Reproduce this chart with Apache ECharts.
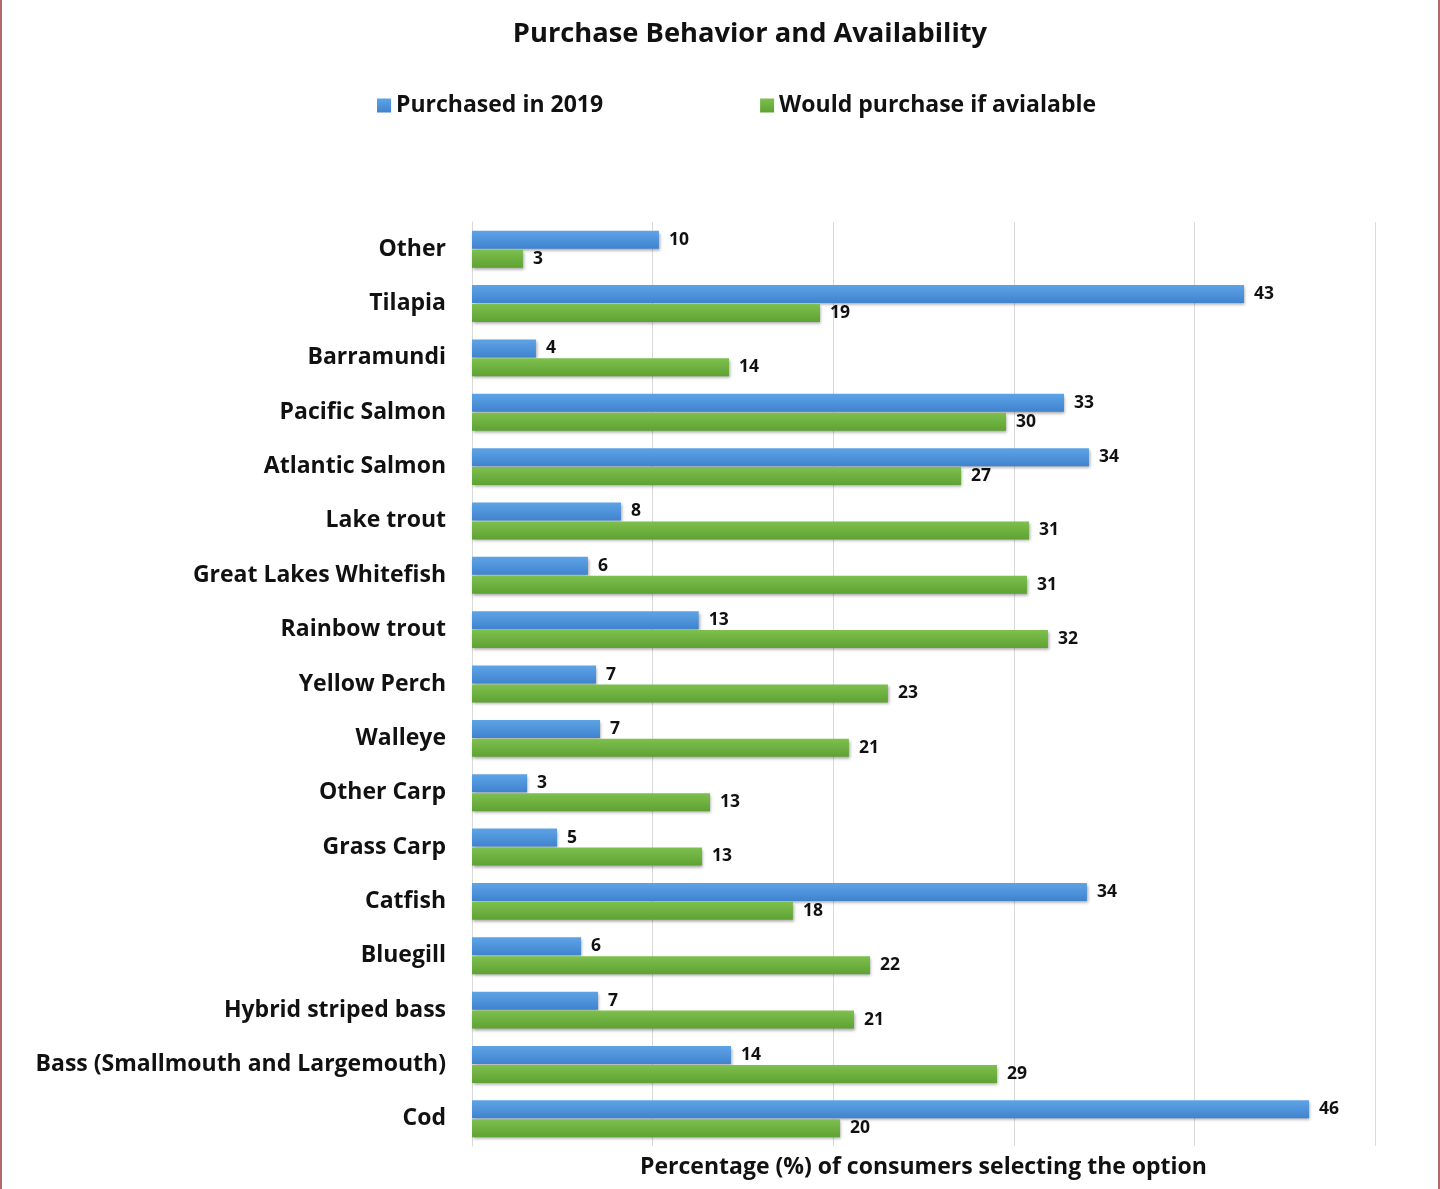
<!DOCTYPE html>
<html>
<head>
<meta charset="utf-8">
<script src="https://cdn.jsdelivr.net/npm/echarts@6/dist/echarts.min.js"></script>
<style>
html,body{margin:0;padding:0;background:#fff;}
#wrap{position:absolute;left:0;top:0;width:1440px;height:1189px;box-sizing:border-box;border-left:2px solid #b06a6a;border-right:2px solid #b06a6a;}
#chart{width:100%;height:100%;}
</style>
</head>
<body>
<div id="wrap"><div id="chart"></div></div>
<script>
const categories = ["Other","Tilapia","Barramundi","Pacific Salmon","Atlantic Salmon","Lake trout","Great Lakes Whitefish","Rainbow trout","Yellow Perch","Walleye","Other Carp","Grass Carp","Catfish","Bluegill","Hybrid striped bass","Bass (Smallmouth and Largemouth)","Cod"];
const purchased2019 = [10.35,42.75,3.54,32.78,34.16,8.25,6.42,12.55,6.87,7.09,3.05,4.71,34.05,6.04,6.98,14.34,46.35];
const wouldPurchase = [2.82,19.27,14.23,29.57,27.08,30.84,30.73,31.89,23.03,20.87,13.18,12.74,17.77,22.04,21.15,29.07,20.38];
const seriesNames = ["Purchased in 2019","Would purchase if avialable"];
const titleText = "Purchase Behavior and Availability";
const axisTitle = "Percentage (%) of consumers selecting the option";

const FONT = "Open Sans";
const chart = echarts.init(document.getElementById('chart'));
const lbl = {show:true, position:'right', distance:10, color:'#111', fontFamily:FONT, fontWeight:'bold', fontSize:17.5, formatter:p=>Math.round(p.value)};
chart.setOption({
  animation:false,
  title:{text:titleText, left:743, top:16, textAlign:'center', textStyle:{fontFamily:FONT, fontWeight:'bold', fontSize:27.3, color:'#111'}},
  legend:{data:seriesNames, top:89, left:370, itemGap:157, itemWidth:14, itemHeight:14, icon:'rect', textStyle:{fontFamily:FONT, fontWeight:'bold', fontSize:23, color:'#111'}},
  grid:{left:470, right:63, top:222, bottom:43, containLabel:false, outerBoundsMode:'none'},
  xAxis:{type:'value', min:0, max:50, interval:10,
    axisLabel:{show:false}, axisTick:{show:false}, axisLine:{show:false},
    splitLine:{show:true, lineStyle:{color:'#d9d9d9', width:1}},
    name:axisTitle, nameLocation:'middle', nameGap:10,
    nameTextStyle:{fontFamily:FONT, fontWeight:'bold', fontSize:23, color:'#111'}},
  yAxis:{type:'category', data:categories, inverse:true,
    axisTick:{show:false}, axisLine:{show:true, lineStyle:{color:'#d9d9d9'}},
    axisLabel:{fontFamily:FONT, fontWeight:'bold', fontSize:23, color:'#111', margin:26}},
  series:[
    {name:seriesNames[0], type:'bar', data:purchased2019, barWidth:18, barGap:'5%',
     itemStyle:{color:new echarts.graphic.LinearGradient(0,0,0,1,[{offset:0,color:'#5fa3e6'},{offset:1,color:'#3f83cf'}]), shadowColor:'rgba(0,0,0,0.35)', shadowBlur:3, shadowOffsetX:1, shadowOffsetY:2},
     label:lbl},
    {name:seriesNames[1], type:'bar', data:wouldPurchase, barWidth:18, barGap:'5%',
     itemStyle:{color:new echarts.graphic.LinearGradient(0,0,0,1,[{offset:0,color:'#7ec04e'},{offset:1,color:'#5ea233'}]), shadowColor:'rgba(0,0,0,0.35)', shadowBlur:3, shadowOffsetX:1, shadowOffsetY:2},
     label:lbl}
  ]
});
</script>
</body>
</html>
